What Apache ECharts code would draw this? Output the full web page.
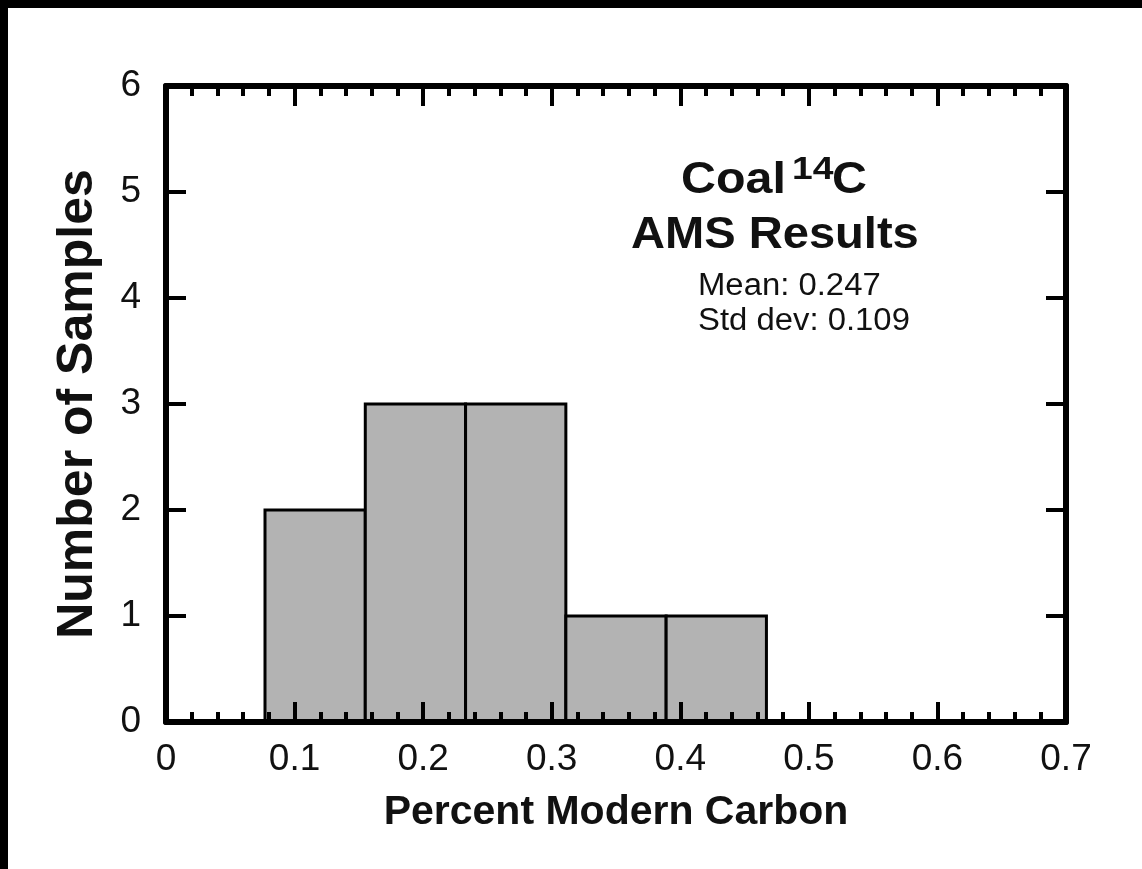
<!DOCTYPE html>
<html>
<head>
<meta charset="utf-8">
<script src="https://cdn.jsdelivr.net/npm/echarts@6/dist/echarts.min.js"></script>
<style>
  html, body { margin: 0; padding: 0; background: #000; }
  #chart { position: absolute; left: 8px; top: 8px; width: 1134px; height: 861px; background: #fff; }
</style>
</head>
<body>
<div id="chart"></div>
<script>
// histogram bins (percent modern carbon) and sample counts
const binEdges = [0.077, 0.155, 0.233, 0.311, 0.389, 0.467]
const sampleCounts = [2, 3, 3, 1, 1]

const xMin = 0, xMax = 0.7, xStep = 0.1
const yMin = 0, yMax = 6, yStep = 1

const statLines = ['Mean: 0.247', 'Std dev: 0.109']

const font = '"Liberation Sans", Arial, Helvetica, sans-serif'

const chart = echarts.init(document.getElementById('chart'))

const histData = sampleCounts.map((c, i) => [binEdges[i], binEdges[i + 1], c])

const axisLine = { show: true, onZero: false, lineStyle: { color: '#000', width: 6 } }
const tick = { show: true, inside: true, length: 20, lineStyle: { color: '#000', width: 4 } }
const minor = { show: true, splitNumber: 5, length: 10, lineStyle: { color: '#000', width: 4 } }

chart.setOption({
  animation: false,
  grid: { left: 158, top: 78, width: 900, height: 636 },
  xAxis: [{
    type: 'value',
    position: 'bottom',
    min: xMin, max: xMax, interval: xStep,
    z: 5,
    axisLine: axisLine,
    axisTick: tick,
    minorTick: minor,
    splitLine: { show: false },
    axisLabel: { color: '#111', fontSize: 37, fontFamily: font, margin: 19 },
    name: 'Percent Modern Carbon',
    nameLocation: 'middle',
    nameGap: 70,
    nameTextStyle: { color: '#111', fontSize: 41, fontWeight: 'bold', fontFamily: font }
  }, {
    type: 'value',
    position: 'top',
    min: xMin, max: xMax, interval: xStep,
    z: 5,
    axisLine: axisLine,
    axisTick: tick,
    minorTick: minor,
    splitLine: { show: false },
    axisLabel: { show: false }
  }],
  yAxis: [{
    type: 'value',
    position: 'left',
    min: yMin, max: yMax, interval: yStep,
    z: 5,
    axisLine: axisLine,
    axisTick: tick,
    splitLine: { show: false },
    axisLabel: { color: '#111', fontSize: 37, fontFamily: font, margin: 25 },
    name: 'Number of Samples',
    nameLocation: 'middle',
    nameRotate: 90,
    nameGap: 63,
    nameTextStyle: { color: '#111', fontSize: 50, fontWeight: 'bold', fontFamily: font }
  }, {
    type: 'value',
    position: 'right',
    min: yMin, max: yMax, interval: yStep,
    z: 5,
    axisLine: axisLine,
    axisTick: tick,
    splitLine: { show: false },
    axisLabel: { show: false }
  }],
  // annotation block (positions relative to the chart div)
  graphic: [
    { type: 'text', x: 673, y: 151, scaleX: 1.1, style: { text: 'Coal', font: 'bold 44px ' + font, fill: '#111' } },
    { type: 'text', x: 784, y: 147, scaleX: 1.2, style: { text: '14', font: 'bold 31px ' + font, fill: '#111' } },
    { type: 'text', x: 824, y: 151, scaleX: 1.1, style: { text: 'C', font: 'bold 44px ' + font, fill: '#111' } },
    { type: 'text', x: 623, y: 206, scaleX: 1.07, style: { text: 'AMS Results', font: 'bold 44px ' + font, fill: '#111' } },
    { type: 'text', x: 690, y: 261, scaleX: 1.06, style: { text: statLines.join('\n'), font: '31px ' + font, lineHeight: 35, fill: '#111' } }
  ],
  series: [{
    type: 'custom',
    z: 2,
    data: histData,
    encode: { x: [0, 1], y: 2 },
    renderItem: function (params, api) {
      const topLeft = api.coord([api.value(0), api.value(2)])
      const bottomRight = api.coord([api.value(1), 0])
      return {
        type: 'rect',
        shape: {
          x: topLeft[0],
          y: topLeft[1],
          width: bottomRight[0] - topLeft[0],
          height: bottomRight[1] - topLeft[1]
        },
        style: { fill: '#b3b3b3', stroke: '#000', lineWidth: 3 }
      }
    }
  }]
})
</script>
</body>
</html>
